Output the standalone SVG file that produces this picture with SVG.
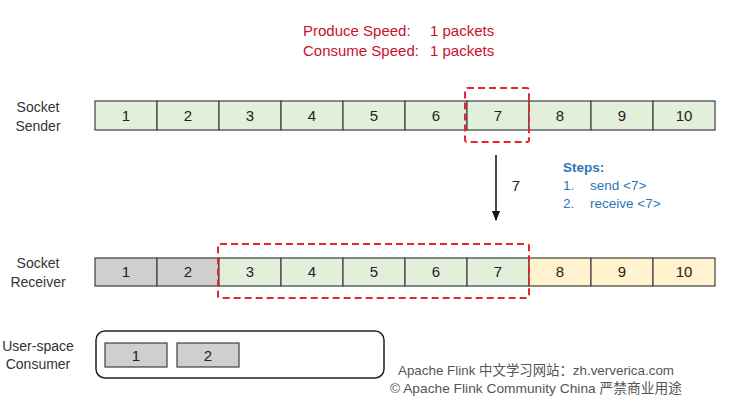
<svg xmlns="http://www.w3.org/2000/svg" width="740" height="417" viewBox="0 0 740 417">
<defs>
<style>
text{font-family:"Liberation Sans","Noto Sans CJK SC",sans-serif;}
.lbl{font-size:14px;fill:#333;text-anchor:middle;}
.num{font-size:15px;fill:#222;text-anchor:middle;}
.g{fill:#e2efda;stroke:#3f3f3f;stroke-width:1.2;}
.y{fill:#fff2cc;stroke:#3f3f3f;stroke-width:1.2;}
.s{fill:#d0cece;stroke:#3f3f3f;stroke-width:1.2;}
.dash{fill:none;stroke:#e3262f;stroke-width:2;stroke-dasharray:7 4;}
.red{font-size:15px;fill:#c8102e;}
.blue{font-size:13.5px;fill:#2e75b6;}
.wm{font-size:13.5px;fill:#555;}
</style>
<marker id="ah" viewBox="0 0 10 10" refX="9" refY="5" markerWidth="7" markerHeight="7" orient="auto"><path d="M0,1 L10,5 L0,9 z" fill="#111"/></marker>
</defs>
<rect width="740" height="417" fill="#fff"/>
<g id="title">
<text class="red" x="303" y="36">Produce Speed:</text><text class="red" x="430" y="36">1 packets</text>
<text class="red" x="303" y="56">Consume Speed:</text><text class="red" x="430" y="56">1 packets</text>
</g>
<g id="sender">
<text class="lbl" x="38" y="112">Socket</text><text class="lbl" x="38" y="131">Sender</text>
<rect class="g" x="95" y="101" width="62" height="29"/><text class="num" x="126" y="121">1</text>
<rect class="g" x="157" y="101" width="62" height="29"/><text class="num" x="188" y="121">2</text>
<rect class="g" x="219" y="101" width="62" height="29"/><text class="num" x="250" y="121">3</text>
<rect class="g" x="281" y="101" width="62" height="29"/><text class="num" x="312" y="121">4</text>
<rect class="g" x="343" y="101" width="62" height="29"/><text class="num" x="374" y="121">5</text>
<rect class="g" x="405" y="101" width="62" height="29"/><text class="num" x="436" y="121">6</text>
<rect class="g" x="467" y="101" width="62" height="29"/><text class="num" x="498" y="121">7</text>
<rect class="g" x="529" y="101" width="62" height="29"/><text class="num" x="560" y="121">8</text>
<rect class="g" x="591" y="101" width="62" height="29"/><text class="num" x="622" y="121">9</text>
<rect class="g" x="653" y="101" width="62" height="29"/><text class="num" x="684" y="121">10</text>
<rect class="dash" x="465" y="88" width="64" height="54" rx="2"/>
</g>
<g id="receiver">
<text class="lbl" x="38" y="268">Socket</text><text class="lbl" x="38" y="287">Receiver</text>
<rect class="s" x="95" y="258" width="62" height="28"/><text class="num" x="126" y="277">1</text>
<rect class="s" x="157" y="258" width="62" height="28"/><text class="num" x="188" y="277">2</text>
<rect class="g" x="219" y="258" width="62" height="28"/><text class="num" x="250" y="277">3</text>
<rect class="g" x="281" y="258" width="62" height="28"/><text class="num" x="312" y="277">4</text>
<rect class="g" x="343" y="258" width="62" height="28"/><text class="num" x="374" y="277">5</text>
<rect class="g" x="405" y="258" width="62" height="28"/><text class="num" x="436" y="277">6</text>
<rect class="g" x="467" y="258" width="62" height="28"/><text class="num" x="498" y="277">7</text>
<rect class="y" x="529" y="258" width="62" height="28"/><text class="num" x="560" y="277">8</text>
<rect class="y" x="591" y="258" width="62" height="28"/><text class="num" x="622" y="277">9</text>
<rect class="y" x="653" y="258" width="62" height="28"/><text class="num" x="684" y="277">10</text>
<rect class="dash" x="218" y="244" width="311" height="54" rx="2"/>
</g>
<g id="consumer">
<text class="lbl" x="38" y="351">User-space</text><text class="lbl" x="38" y="369">Consumer</text>
<rect x="96" y="331" width="288" height="47" rx="9" fill="none" stroke="#222" stroke-width="1.5"/>
<rect class="s" x="105" y="343" width="62" height="24"/><text class="num" x="136" y="361">1</text>
<rect class="s" x="177" y="343" width="62" height="24"/><text class="num" x="208" y="361">2</text>
</g>
<g id="connectors">
<line x1="496" y1="155" x2="496" y2="220" stroke="#111" stroke-width="1.5" marker-end="url(#ah)"/>
<text class="num" x="516" y="191">7</text>
</g>
<g id="steps">
<text class="blue" x="563" y="172" font-weight="bold">Steps:</text>
<text class="blue" x="563" y="190">1.</text><text class="blue" x="590" y="190">send &lt;7&gt;</text>
<text class="blue" x="563" y="208">2.</text><text class="blue" x="590" y="208">receive &lt;7&gt;</text>
</g>
<g id="watermark">
<text class="wm" x="398" y="375" textLength="276" lengthAdjust="spacingAndGlyphs">Apache Flink 中文学习网站：zh.ververica.com</text>
<text class="wm" x="390" y="393" textLength="292" lengthAdjust="spacingAndGlyphs">© Apache Flink Community China  严禁商业用途</text>
</g>
</svg>
